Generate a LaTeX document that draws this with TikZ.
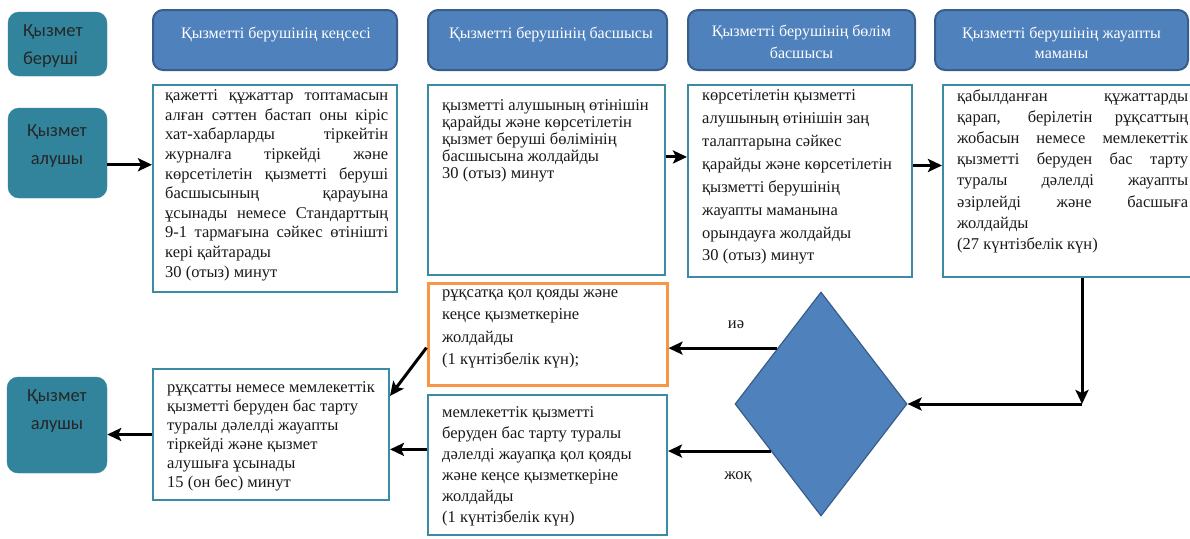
\documentclass[tikz,border=0pt]{standalone}
\usepackage{fontspec}
\setmainfont{Liberation Serif}
\newfontfamily\calibrifont{Carlito}
\usetikzlibrary{shapes.geometric,arrows.meta,calc}
\definecolor{tealbox}{HTML}{31849B}
\definecolor{hblue}{HTML}{4F81BD}
\definecolor{hborder}{HTML}{385D8A}
\definecolor{pborder}{HTML}{3B8CA3}
\definecolor{orng}{HTML}{F79646}
\newcommand\jl[2]{\makebox[#1][s]{#2}}
\begin{document}
\begin{tikzpicture}[x=1pt,y=-1pt,
  actor/.style={fill=tealbox, draw=tealbox, rounded corners=11pt, inner sep=0pt},
  atext/.style={font=\calibrifont\fontsize{18.5}{28}\selectfont, text=black!85, inner sep=0pt},
  head/.style={fill=hblue, draw=hborder, line width=2pt, rounded corners=10pt, inner sep=0pt},
  htext/.style={text=white, align=center, inner sep=0pt, anchor=north},
  proc/.style={draw=pborder, line width=2pt, fill=white, inner sep=0pt},
  ptext/.style={inner sep=0pt, anchor=north west, align=left, text=black!90},
  arr/.style={-{Stealth[length=14pt,width=13pt,inset=3pt]}, line width=3pt},
  lbl/.style={inner sep=0pt, font=\fontsize{16.5}{18}\selectfont, text=black!90}
]
\fill[white] (0,0) rectangle (1190,538);
\useasboundingbox (0,0) rectangle (1190,538);

% actors
\node[actor, minimum width=99pt, minimum height=64pt] (ber) at (57.5,44) {};
\node[atext, text width=70pt, align=left] (bert) at (58,46) {Қызмет\\беруші};
\node[actor, minimum width=99pt, minimum height=90pt] (al1) at (57.5,153) {};
\node[atext, align=center] (al1t) at (57,146) {Қызмет\\алушы};
\node[actor, minimum width=100pt, minimum height=96pt] (al2) at (57,425) {};
\node[atext, align=center] (al2t) at (57,411) {Қызмет\\алушы};

% headers
\node[head, minimum width=244pt, minimum height=60pt] (h1) at (275,40) {};
\node[htext, font=\fontsize{16}{21}\selectfont] (h1t) at (276,26.5) {Қызметті берушінің кеңсесі};
\node[head, minimum width=239pt, minimum height=60pt] (h2) at (547.5,40) {};
\node[htext, font=\fontsize{16}{21}\selectfont] (h2t) at (551,26.5) {Қызметті берушінің басшысы};
\node[head, minimum width=227pt, minimum height=60pt] (h3) at (801.5,40) {};
\node[htext, font=\fontsize{16}{22}\selectfont] (h3t) at (801.5,24.5) {Қызметті берушінің бөлім\\басшысы};
\node[head, minimum width=253pt, minimum height=60pt] (h4) at (1061.5,40) {};
\node[htext, font=\fontsize{16}{20}\selectfont] (h4t) at (1061.5,26.5) {Қызметті берушінің жауапты\\маманы};

% process boxes
\node[proc, minimum width=244pt, minimum height=207pt] (b1) at (275,188.5) {};
\node[ptext, font=\fontsize{16.5}{19.6}\selectfont] (b1t) at (165,89.5) {%
\jl{223pt}{қажетті құжаттар топтамасын}\\
\jl{223pt}{алған сәттен бастап оны кіріс}\\
\jl{223pt}{хат-хабарларды тіркейтін}\\
\jl{223pt}{журналға тіркейді және}\\
\jl{223pt}{көрсетілетін қызметті беруші}\\
\jl{223pt}{басшысының қарауына}\\
\jl{223pt}{ұсынады немесе Стандарттың}\\
\jl{223pt}{9-1 тармағына сәйкес өтінішті}\\
кері қайтарады\\
30 (отыз) минут};

\node[proc, minimum width=237pt, minimum height=190pt] (b2) at (546.5,180) {};
\node[ptext, font=\fontsize{16.5}{17}\selectfont] (b2t) at (442,99.5) {%
қызметті алушының өтінішін\\
қарайды және көрсетілетін\\
қызмет беруші бөлімінің\\
басшысына жолдайды\\
30 (отыз) минут};

\node[proc, minimum width=224pt, minimum height=192pt] (b3) at (800,181) {};
\node[ptext, font=\fontsize{16.5}{22.9}\selectfont] (b3t) at (702,89.5) {%
көрсетілетін қызметті\\
алушының өтінішін заң\\
талаптарына сәйкес\\
қарайды және көрсетілетін\\
қызметті берушінің\\
жауапты маманына\\
орындауға жолдайды\\
30 (отыз) минут};

\node[proc, minimum width=249pt, minimum height=192pt] (b4) at (1067.5,181) {};
\node[ptext, font=\fontsize{16.5}{21.1}\selectfont] (b4t) at (957,89.5) {%
\jl{231pt}{қабылданған құжаттарды}\\
\jl{231pt}{қарап, берілетін рұқсаттың}\\
\jl{231pt}{жобасын немесе мемлекеттік}\\
\jl{231pt}{қызметті беруден бас тарту}\\
\jl{231pt}{туралы дәлелді жауапты}\\
\jl{231pt}{әзірлейді және басшыға}\\
жолдайды\\
(27 күнтізбелік күн)};

\node[proc, draw=orng, line width=3pt, minimum width=239pt, minimum height=102pt] (orange) at (547.5,334) {};
\node[ptext, font=\fontsize{16.5}{22.3}\selectfont] (oranget) at (442,289.5) {%
рұқсатқа қол қояды және\\
кеңсе қызметкеріне\\
жолдайды\\
(1 күнтізбелік күн);};

\node[proc, minimum width=239pt, minimum height=140pt] (mem) at (547.5,465) {};
\node[ptext, font=\fontsize{16.5}{21}\selectfont] (memt) at (442,406.5) {%
мемлекеттік қызметті\\
беруден бас тарту туралы\\
дәлелді жауапқа қол қояды\\
және кеңсе қызметкеріне\\
жолдайды\\
(1 күнтізбелік күн)};

\node[proc, minimum width=236pt, minimum height=131pt] (b5) at (271,434.5) {};
\node[ptext, font=\fontsize{16.5}{19}\selectfont] (b5t) at (167,381.5) {%
рұқсатты немесе мемлекеттік\\
қызметті беруден бас тарту\\
туралы дәлелді жауапты\\
тіркейді және қызмет\\
алушыға ұсынады\\
15 (он бес) минут};

% decision
\node[diamond, fill=hblue, draw=hborder, line width=1.2pt, inner sep=0pt, minimum width=172pt, minimum height=224pt] (dia) at (821,404) {};

% labels
\node[lbl] (yes) at (736,325) {иә};
\node[lbl] (no) at (738,477) {жоқ};

% connectors
\coordinate (a1) at ($(al1.north east)!0.63!(al1.south east)$);
\draw[arr] (a1) -- (a1 -| b1.west);
\coordinate (a2) at ($(b2.north east)!0.38!(b2.south east)$);
\draw[arr] (a2) -- (a2 -| b3.west);
\coordinate (a3) at ($(b3.north east)!0.42!(b3.south east)$);
\draw[arr] (a3) -- (a3 -| b4.west);
\coordinate (turn) at (1082,404);
\draw[arr] (b4.south -| turn) -- (turn);
\draw[arr] (turn) -- (dia.east);
\draw[arr] (dia.128) -- (dia.128 -| orange.east);
\draw[arr] (dia.223) -- (dia.223 -| mem.east);
\coordinate (o1) at ($(orange.north west)!0.63!(orange.south west)$);
\coordinate (p1) at ($(b5.north east)!0.21!(b5.south east)$);
\draw[arr] (o1) -- (p1);
\coordinate (m1) at ($(mem.north west)!0.39!(mem.south west)$);
\draw[arr] (m1) -- (m1 -| b5.east);
\draw[arr] (b5.west) -- (b5.west -| al2.east);
\end{tikzpicture}
\end{document}
